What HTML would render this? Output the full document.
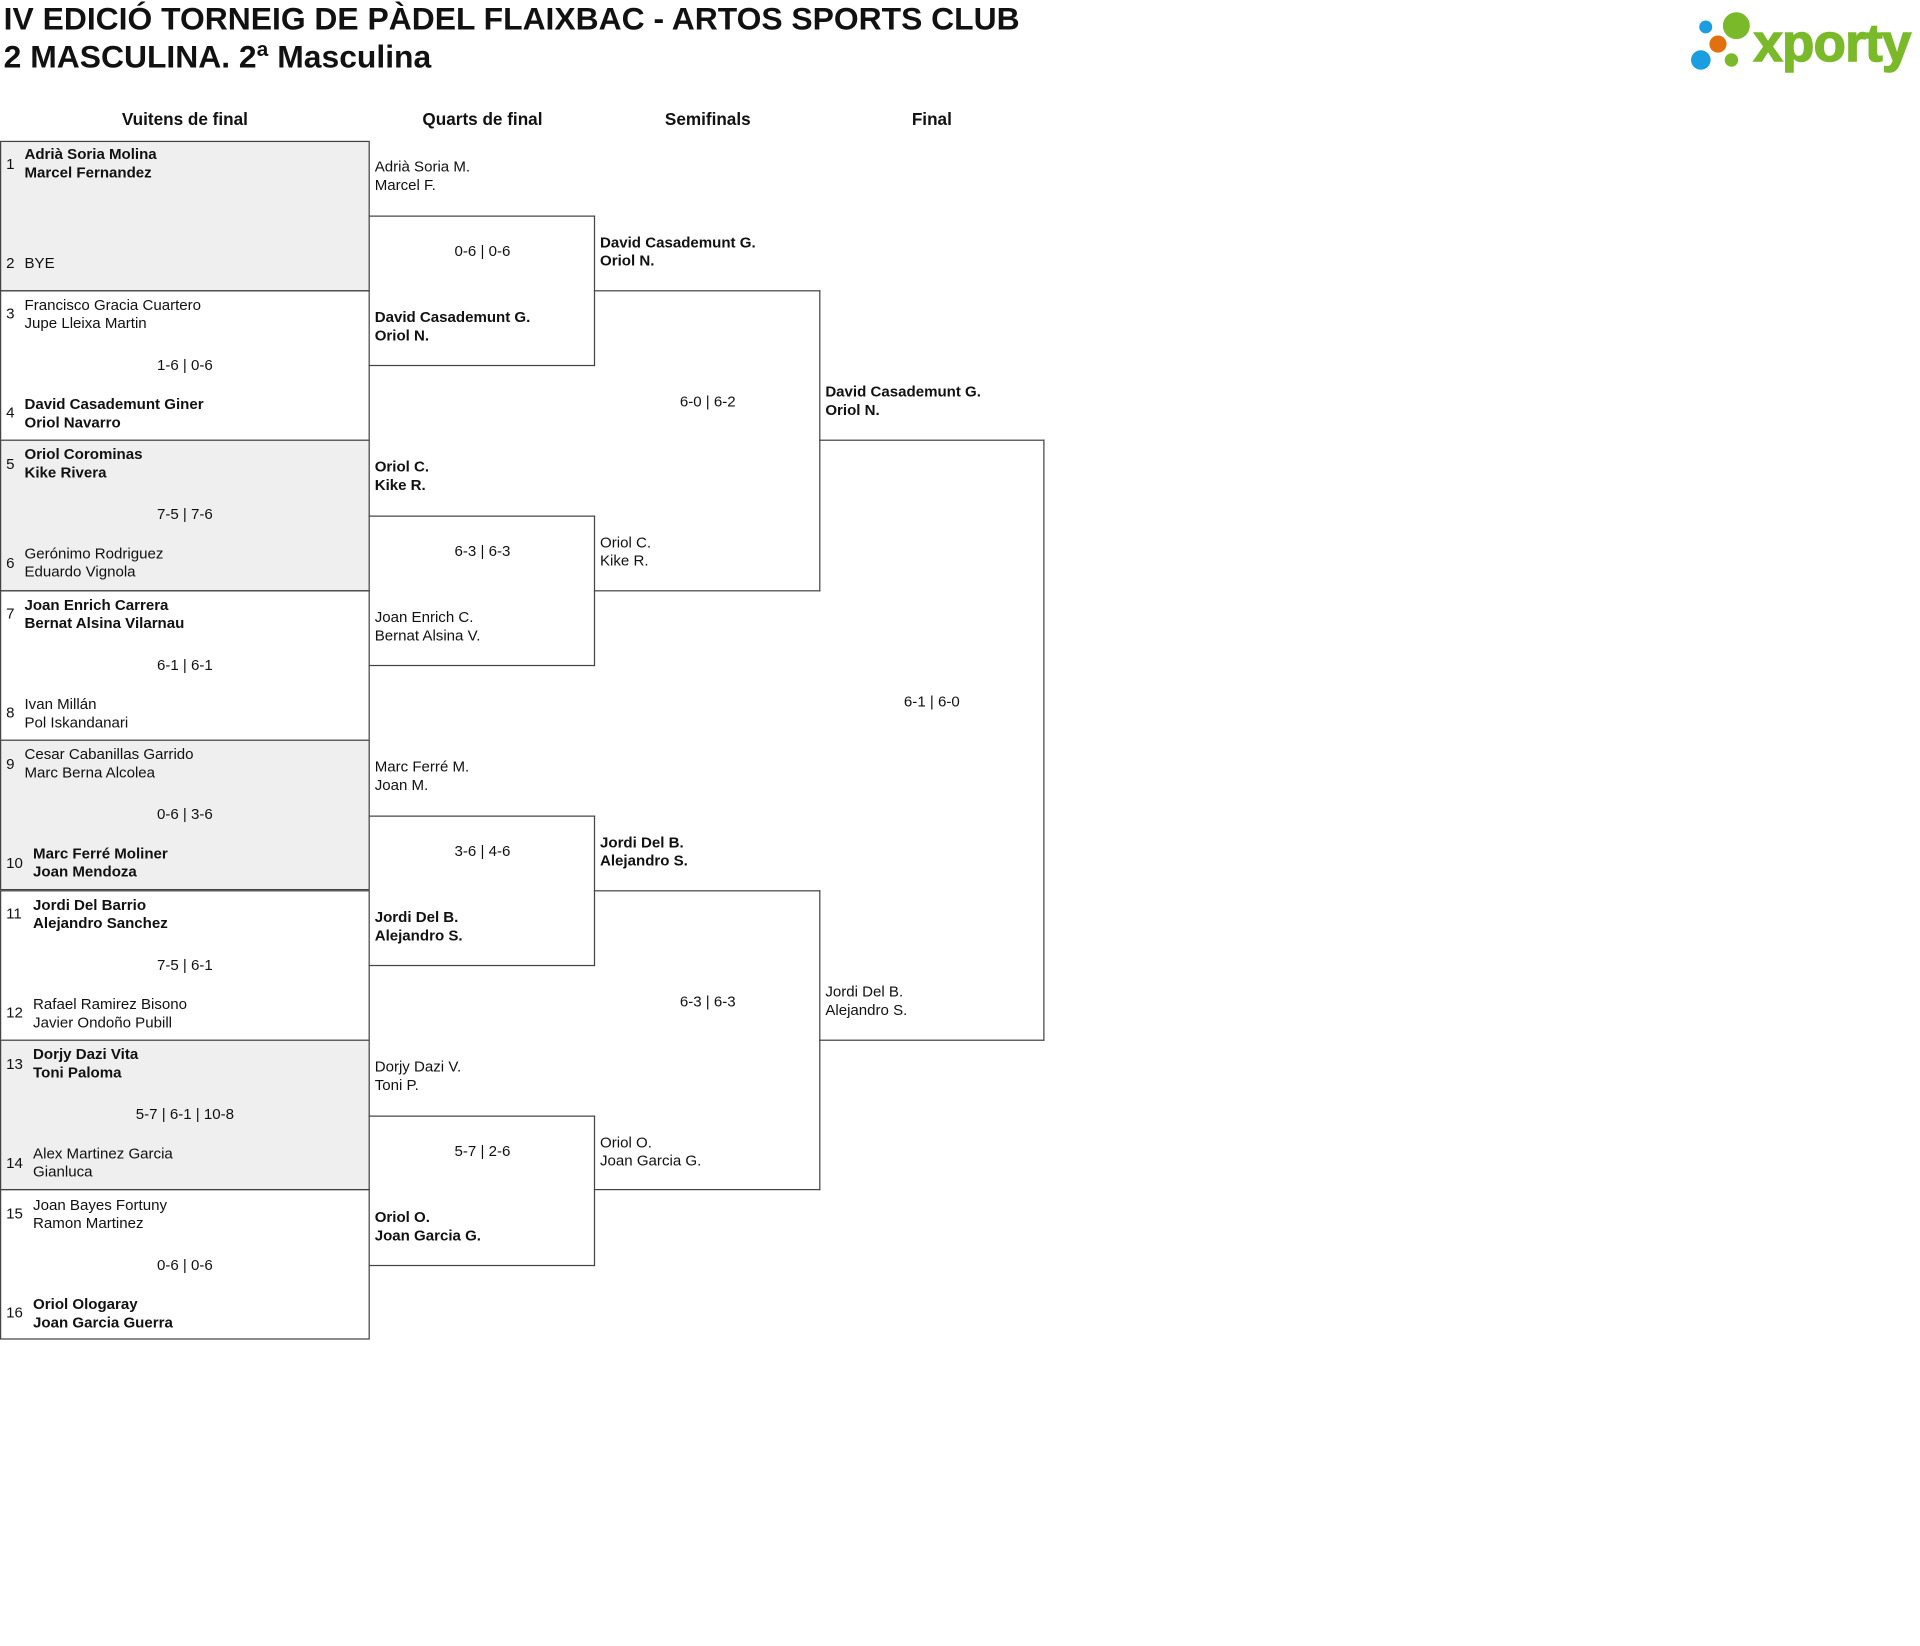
<!DOCTYPE html>
<html><head><meta charset="utf-8">
<style>
html,body{margin:0;padding:0;background:#fff;width:1920px;height:1645px;overflow:hidden}
#w{position:absolute;left:0;top:0;width:1568px;height:1344px;transform:scale(1.2245);transform-origin:0 0;font-family:"Liberation Sans",Arial,sans-serif;color:#111}
.t{position:absolute;font-size:12.3px;line-height:15px;white-space:nowrap;margin-top:1px}
.b{font-weight:bold}
.c{text-align:center}
.box{position:absolute;box-sizing:border-box;border:1px solid #444}
.bx{position:absolute;box-sizing:border-box;border:1px solid #444;border-left:none}
.h{position:absolute;font-weight:bold;font-size:14px;text-align:center;white-space:nowrap;margin-top:1px}
.ti{position:absolute;left:3px;font-weight:bold;font-size:26px;white-space:nowrap;line-height:30px}
</style></head><body><div id="w">
<div class="ti" style="top:0px">IV EDICIÓ TORNEIG DE PÀDEL FLAIXBAC - ARTOS SPORTS CLUB</div>
<div class="ti" style="top:31px">2 MASCULINA. 2ª Masculina</div>

<svg style="position:absolute;left:1370px;top:0" width="200" height="70">
<circle cx="48" cy="21" r="11" fill="#7ab929"/>
<circle cx="23" cy="22" r="5.3" fill="#1a9ee0"/>
<circle cx="33" cy="36" r="7" fill="#e2700f"/>
<circle cx="19" cy="49" r="8" fill="#1a9ee0"/>
<circle cx="44" cy="49" r="5.5" fill="#7ab929"/>
<text x="62" y="50" font-family="Liberation Sans, sans-serif" font-weight="bold" font-size="43" fill="#7ab929" stroke="#7ab929" stroke-width="1.2" letter-spacing="-0.5">xporty</text>
</svg>

<div class="h" style="left:51px;width:200px;top:88px">Vuitens de final</div>
<div class="h" style="left:294px;width:200px;top:88px">Quarts de final</div>
<div class="h" style="left:478px;width:200px;top:88px">Semifinals</div>
<div class="h" style="left:661px;width:200px;top:88px">Final</div>

<div class="box" style="left:0;top:115px;width:302px;height:123px;background:#efefef"></div>
<div class="box" style="left:0;top:237px;width:302px;height:123px"></div>
<div class="box" style="left:0;top:359px;width:302px;height:124px;background:#efefef"></div>
<div class="box" style="left:0;top:482px;width:302px;height:123px"></div>
<div class="box" style="left:0;top:604px;width:302px;height:123px;background:#efefef"></div>
<div class="box" style="left:0;top:727px;width:302px;height:123px"></div>
<div class="box" style="left:0;top:849px;width:302px;height:123px;background:#efefef"></div>
<div class="box" style="left:0;top:971px;width:302px;height:123px"></div>

<div class="t" style="left:5px;top:126px">1</div>
<div class="t b" style="left:20px;top:118px">Adrià Soria Molina<br>Marcel Fernandez</div>
<div class="t" style="left:5px;top:207px">2</div>
<div class="t" style="left:20px;top:207px">BYE</div>
<div class="t" style="left:5px;top:248px">3</div>
<div class="t" style="left:20px;top:241px">Francisco Gracia Cuartero<br>Jupe Lleixa Martin</div>
<div class="t c" style="left:0;width:302px;top:290px">1-6 | 0-6</div>
<div class="t" style="left:5px;top:329px">4</div>
<div class="t b" style="left:20px;top:322px">David Casademunt Giner<br>Oriol Navarro</div>
<div class="t" style="left:5px;top:371px">5</div>
<div class="t b" style="left:20px;top:363px">Oriol Corominas<br>Kike Rivera</div>
<div class="t c" style="left:0;width:302px;top:412px">7-5 | 7-6</div>
<div class="t" style="left:5px;top:452px">6</div>
<div class="t" style="left:20px;top:444px">Gerónimo Rodriguez<br>Eduardo Vignola</div>
<div class="t" style="left:5px;top:493px">7</div>
<div class="t b" style="left:20px;top:486px">Joan Enrich Carrera<br>Bernat Alsina Vilarnau</div>
<div class="t c" style="left:0;width:302px;top:535px">6-1 | 6-1</div>
<div class="t" style="left:5px;top:574px">8</div>
<div class="t" style="left:20px;top:567px">Ivan Millán<br>Pol Iskandanari</div>
<div class="t" style="left:5px;top:616px">9</div>
<div class="t" style="left:20px;top:608px">Cesar Cabanillas Garrido<br>Marc Berna Alcolea</div>
<div class="t c" style="left:0;width:302px;top:657px">0-6 | 3-6</div>
<div class="t" style="left:5px;top:697px">10</div>
<div class="t b" style="left:27px;top:689px">Marc Ferré Moliner<br>Joan Mendoza</div>
<div class="t" style="left:5px;top:738px">11</div>
<div class="t b" style="left:27px;top:731px">Jordi Del Barrio<br>Alejandro Sanchez</div>
<div class="t c" style="left:0;width:302px;top:780px">7-5 | 6-1</div>
<div class="t" style="left:5px;top:819px">12</div>
<div class="t" style="left:27px;top:812px">Rafael Ramirez Bisono<br>Javier Ondoño Pubill</div>
<div class="t" style="left:5px;top:861px">13</div>
<div class="t b" style="left:27px;top:853px">Dorjy Dazi Vita<br>Toni Paloma</div>
<div class="t c" style="left:0;width:302px;top:902px">5-7 | 6-1 | 10-8</div>
<div class="t" style="left:5px;top:942px">14</div>
<div class="t" style="left:27px;top:934px">Alex Martinez Garcia<br>Gianluca</div>
<div class="t" style="left:5px;top:983px">15</div>
<div class="t" style="left:27px;top:976px">Joan Bayes Fortuny<br>Ramon Martinez</div>
<div class="t c" style="left:0;width:302px;top:1025px">0-6 | 0-6</div>
<div class="t" style="left:5px;top:1064px">16</div>
<div class="t b" style="left:27px;top:1057px">Oriol Ologaray<br>Joan Garcia Guerra</div>

<div class="bx" style="left:301px;top:176px;width:185px;height:123px"></div>
<div class="bx" style="left:301px;top:421px;width:185px;height:123px"></div>
<div class="bx" style="left:301px;top:666px;width:185px;height:123px"></div>
<div class="bx" style="left:301px;top:911px;width:185px;height:123px"></div>

<div class="t" style="left:306px;top:128px">Adrià Soria M.<br>Marcel F.</div>
<div class="t c" style="left:302px;width:184px;top:197px">0-6 | 0-6</div>
<div class="t b" style="left:306px;top:251px">David Casademunt G.<br>Oriol N.</div>
<div class="t b" style="left:306px;top:373px">Oriol C.<br>Kike R.</div>
<div class="t c" style="left:302px;width:184px;top:442px">6-3 | 6-3</div>
<div class="t" style="left:306px;top:496px">Joan Enrich C.<br>Bernat Alsina V.</div>
<div class="t" style="left:306px;top:618px">Marc Ferré M.<br>Joan M.</div>
<div class="t c" style="left:302px;width:184px;top:687px">3-6 | 4-6</div>
<div class="t b" style="left:306px;top:741px">Jordi Del B.<br>Alejandro S.</div>
<div class="t" style="left:306px;top:863px">Dorjy Dazi V.<br>Toni P.</div>
<div class="t c" style="left:302px;width:184px;top:932px">5-7 | 2-6</div>
<div class="t b" style="left:306px;top:986px">Oriol O.<br>Joan Garcia G.</div>

<div class="bx" style="left:485px;top:237px;width:185px;height:246px"></div>
<div class="bx" style="left:485px;top:727px;width:185px;height:245px"></div>
<div class="t b" style="left:490px;top:190px">David Casademunt G.<br>Oriol N.</div>
<div class="t c" style="left:486px;width:184px;top:320px">6-0 | 6-2</div>
<div class="t" style="left:490px;top:435px">Oriol C.<br>Kike R.</div>
<div class="t b" style="left:490px;top:680px">Jordi Del B.<br>Alejandro S.</div>
<div class="t c" style="left:486px;width:184px;top:810px">6-3 | 6-3</div>
<div class="t" style="left:490px;top:925px">Oriol O.<br>Joan Garcia G.</div>

<div class="bx" style="left:669px;top:359px;width:184px;height:491px"></div>
<div class="t b" style="left:674px;top:312px">David Casademunt G.<br>Oriol N.</div>
<div class="t c" style="left:669px;width:184px;top:565px">6-1 | 6-0</div>
<div class="t" style="left:674px;top:802px">Jordi Del B.<br>Alejandro S.</div>
</div></body></html>
